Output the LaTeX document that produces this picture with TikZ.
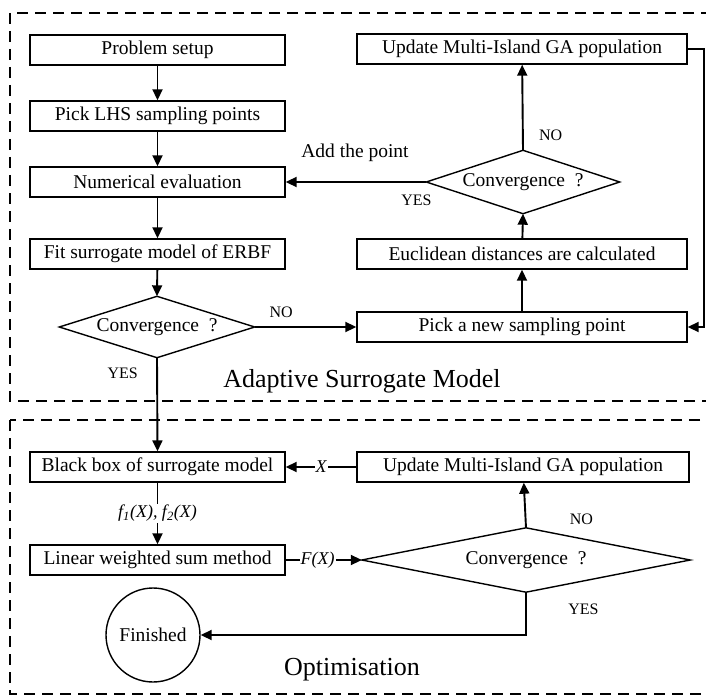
\documentclass[tikz,border=0pt]{standalone}
\usepackage{fontspec}
\setmainfont{Liberation Serif}
\usetikzlibrary{arrows.meta}
\begin{document}
\begin{tikzpicture}[x=1pt,y=-1pt,
    box/.style={draw,line width=1.4pt,minimum height=30pt,inner sep=0pt,
      font=\fontsize{19.5}{22}\selectfont},
    leftbox/.style={box,minimum width=255pt},
    rightbox/.style={box,minimum width=330pt},
    decision/.style={inner sep=0pt,font=\fontsize{19.5}{22}\selectfont},
    flow/.style={line width=1.9pt,-{Triangle[length=11pt,width=10pt]}},
    tag/.style={font=\fontsize{16}{18}\selectfont},
    edgetag/.style={fill=white,inner sep=1pt,font=\fontsize{18}{20}\selectfont\itshape},
    frame/.style={line width=2pt,dash pattern=on 11pt off 7pt}]
  \useasboundingbox (0,0) rectangle (706,695);
  % dashed frames
  \draw[frame] (10,13) rectangle (720,401);
  \draw[frame] (10,420) rectangle (720,694);
  \node[font=\fontsize{26}{30}\selectfont] (asmtitle) at (362,381) {Adaptive Surrogate Model};
  \node[font=\fontsize{26}{30}\selectfont] (opttitle) at (352,670) {Optimisation};

  % adaptive surrogate model
  \node[leftbox] (setup) at (157.5,50) {Problem setup};
  \node[leftbox] (lhs) at (157.5,116) {Pick LHS sampling points};
  \node[leftbox] (numeval) at (157.5,182) {Numerical evaluation};
  \node[leftbox] (fit) at (157.5,254) {Fit surrogate model of ERBF};
  \node[decision,minimum width=195pt,minimum height=61pt] (convA) at (157,327) {Convergence~~?};
  \node[rightbox] (updA) at (522,49) {Update Multi-Island GA population};
  \node[decision,minimum width=193pt,minimum height=63pt] (convB) at (523,182) {Convergence~~?};
  \node[rightbox] (eucl) at (522,254) {Euclidean distances are calculated};
  \node[rightbox] (pick) at (522,327) {Pick a new sampling point};

  % optimisation
  \node[leftbox] (black) at (157.5,467) {Black box of surrogate model};
  \node[leftbox] (linear) at (157.5,560) {Linear weighted sum method};
  \node[circle,draw,line width=1.4pt,minimum size=94pt,inner sep=0pt,
    font=\fontsize{19.5}{22}\selectfont] (fin) at (153,635) {Finished};
  \node[rightbox,minimum width=332pt] (updB) at (523,467) {Update Multi-Island GA population};
  \node[decision,minimum width=328pt,minimum height=64pt] (convC) at (526,560) {Convergence~~?};

  \foreach \d in {convA,convB,convC}{
    \draw[line width=1.4pt] (\d.west) -- (\d.north) -- (\d.east) -- (\d.south) -- cycle;
  }

  \draw[flow] (setup) -- (lhs);
  \draw[flow] (lhs) -- (numeval);
  \draw[flow] (numeval) -- (fit);
  \draw[flow] (fit) -- (convA.north);
  \draw[flow] (convA.east) -- node[tag,above=5pt,pos=0.26] {NO} (pick.west);
  \draw[flow] (pick) -- (eucl);
  \draw[flow] (eucl) -- (convB.south);
  \draw[flow] (convB.north) -- node[tag,right=12pt,pos=0.17] {NO} (updA);
  \draw[flow] (convB.west) -- node[tag,below=9pt,pos=0.07] {YES} (numeval.east);
  \node[font=\fontsize{19.5}{22}\selectfont] (addpt) at (355,153) {Add the point};
  \draw[flow] (updA.east) -- ++(16,0) |- (pick.east);

  \draw[flow] (convA.south) -- node[tag,left=15pt,pos=0.17] {YES} (black.north);
  \draw[flow] (black) -- node[edgetag] {f\textsubscript{1}(X), f\textsubscript{2}(X)} (linear);
  \draw[flow] (updB.west) -- node[edgetag] {X} (black.east);
  \draw[flow] (linear.east) -- node[edgetag,pos=0.42] {F(X)} (convC.west);
  \draw[flow] (convC.north) -- node[tag,right=40pt,pos=0.2] {NO} (updB);
  \draw[flow] (convC.south) |- node[tag,pos=0.2,right=38pt] {YES} (fin.east);
\end{tikzpicture}
\end{document}
